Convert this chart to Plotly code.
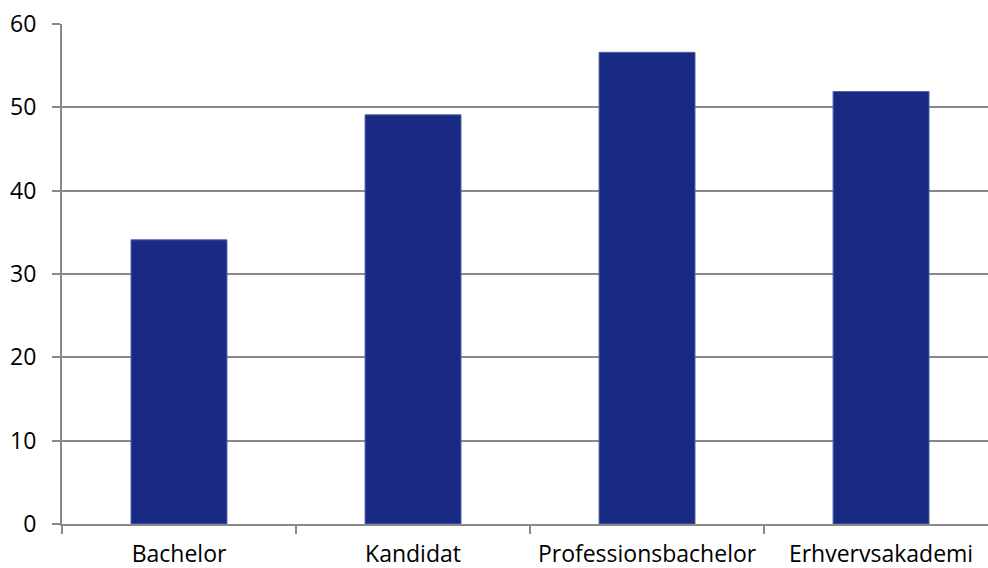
import plotly.graph_objects as go

# Education types and their values
categories = ["Bachelor", "Kandidat", "Professionsbachelor", "Erhvervsakademi"]
values = [34.1, 49.1, 56.6, 51.9]
y_ticks = [0, 10, 20, 30, 40, 50, 60]

bar_color = "#182A83"
grid_color = "#898989"
font_family = "Open Sans, Lato, sans-serif"
label_size = 23

fig = go.Figure(
    go.Bar(
        x=categories,
        y=values,
        width=0.41,
        marker=dict(color=bar_color, line=dict(color="#5262A2", width=1)),
        hoverinfo="x+y",
    )
)

fig.update_layout(
    width=988,
    height=568,
    margin=dict(l=62, r=0, t=24, b=44),
    paper_bgcolor="white",
    plot_bgcolor="white",
    showlegend=False,
    font=dict(family=font_family, size=label_size, color="#000000"),
)

fig.update_xaxes(
    type="category",
    range=[-0.5, 3.457],
    automargin=False,
    showgrid=False,
    showline=True,
    linecolor=grid_color,
    linewidth=2,
    ticks="outside",
    tickson="boundaries",
    ticklen=8,
    tickwidth=2,
    tickcolor=grid_color,
    ticklabelstandoff=8,
    tickfont=dict(family=font_family, size=label_size, color="#000000"),
)

fig.update_yaxes(
    range=[0, 60],
    tickvals=y_ticks,
    automargin=False,
    showgrid=True,
    gridcolor=grid_color,
    gridwidth=2,
    zeroline=False,
    showline=True,
    linecolor=grid_color,
    linewidth=2,
    ticks="outside",
    ticklen=8,
    tickwidth=2,
    tickcolor=grid_color,
    ticklabelstandoff=11,
    tickfont=dict(family=font_family, size=label_size, color="#000000"),
)

fig.write_html("out.html")
